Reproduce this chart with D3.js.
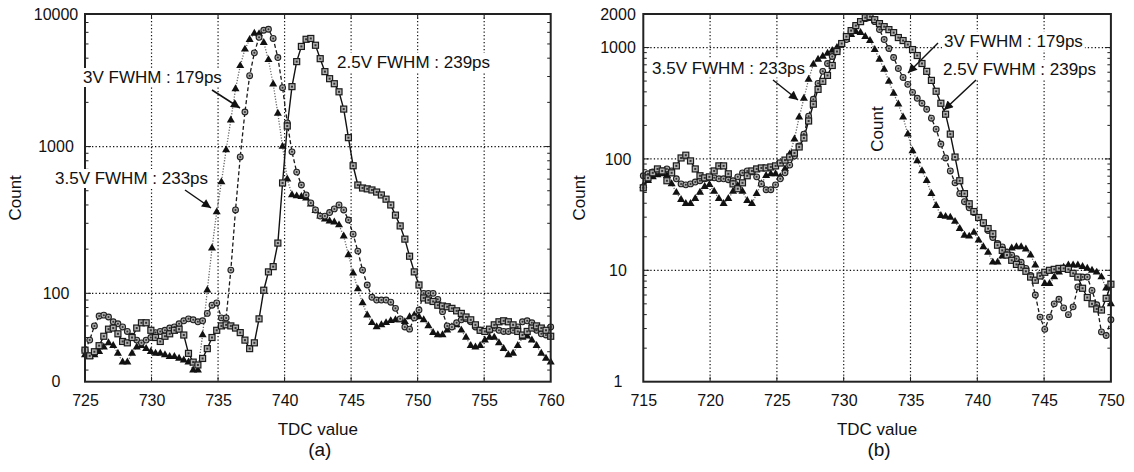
<!DOCTYPE html>
<html lang="en">
<head>
<meta charset="utf-8">
<title>TDC value histograms (a) and (b)</title>
<script src="https://cdn.jsdelivr.net/npm/d3@7"></script>
<style>
  body { margin: 0; background: #fff; }
  svg text { font-family: "Liberation Sans", Arial, Helvetica, sans-serif; fill: #111; }
</style>
</head>
<body>
<script>
// ---- data (100 bins per panel) ----
const tdcA = d3.range(100).map(i => 725 + i * 35 / 99);
const tdcB = d3.range(100).map(i => 715 + i * 35 / 99);

// panel (a)
const countA25 = [41,37.5,40,44,51,57,58,53,47,46, 50,58,63,63,56,50,47,51,53,56,
  57,52,39,34,32.5,36,42,50,56,60, 61,60,58,54,48,42,46,67,105,140,
  152,220,565,1380,2560,3790,4810,5380,5450,4900, 3970,3240,2900,2680,2360,1800,1150,740,547,522,
  515,506,490,468,438,400,341,288,234,179, 140,114,93,90,88,83,82,81,79,76,
  73,69,66,61,56,55,57,61,64,65, 64,61,55,52,55,58,60,58,56,51];
const countA30 = [41,48,60,70,71,69,64,62,59,55, 51,48,46,48,50,54,55,56,58,59,
  62,65,67,66,64,65,73,83,86,68, 68,144,370,850,1720,3040,4350,5550,6200,6300,
  5450,4040,2520,1450,920,670,547,468,413,370, 336,336,355,376,400,370,316,253,194,144,
  114,94,90,90,90,87,79,67,59,57, 68,77,100,100,100,91,75,60,59,63,
  66,67,64,59,56,55,56,58,56,55, 55,56,59,64,65,63,56,53,52,59];
const countA35 = [38,37,38,40,43,46,44,39,34,34, 39,43,44,42,40,39,39,38,37,37,
  36,35,34,30,30,52,105,203,358,573, 950,1515,2470,3550,4600,5350,5900,5850,5100,3900,
  2660,1680,1000,600,468,460,455,445,405,365, 336,320,310,305,292,245,183,137,107,86,
  71,63,59,61,63,65,66,66,64,69, 71,69,66,60,54,52,52,56,59,61,
  56,50,44,43,44,48,50,50,46,42, 38,39,44,50,51,48,44,39,36,34];

// panel (b)
const countB25 = [55,67.6,75,81.3,78,63.7,75,86.6,102,108, 96,81.3,70.6,67.6,69,78,86.6,86.6,73.5,59.7,
  54,61,70.6,78,81.3,83,83,84.7,86.6,91.9, 97.6,104,113,128,154,219,310,421,497,562,
  690,921,1086,1254,1419,1573,1708,1855,1894,1779, 1640,1540,1448,1361,1229,1155,1064,959,848,719,
  611,507,405,316,252,167,104,63.7,48.8,39.6, 33.7,29.8,26.7,23.7,21.3,16.8,15.1,13.7,12.3,11.3,
  10.6,9.8,8.7,8.15,8.9,9.6,10,10.2,10.4,10.4, 10.2,9.4,8.7,6.9,5.7,5.0,4.5,4.4,5.6,7.5];
const countB30 = [70.6,73.5,76.5,78,78,81.3,78,66.3,59.7,58.5, 59.7,62,63.7,66.3,67.6,67.6,66.3,66.3,65,63.7,
  69,75,78,76.5,69,59.7,52.9,52.9,58.5,66.3, 75,88,106,131,167,242,343,477,611,719,
  831,940,1064,1179,1390,1573,1708,1817,1855,1708, 1448,1179,980,814,649,539,467,396,350,316,
  279,232,185,136,102,78,61,48.8,41.3,36.4, 33,29.8,26.2,22.8,19.7,17.4,16.2,14.5,13.7,12.7,
  11.8,10.4,9.0,6.0,3.8,2.95,3.8,5.0,5.5,4.6, 4.0,4.7,7.1,8.7,8.7,6.6,4.9,2.8,2.6,3.6];
const countB35 = [57.5,63.7,69,72,73.5,70.6,59.7,49.9,43,39.6, 39.6,44,50,56.3,58.7,51,44,39.6,44,51,
  57.5,51,42.2,39.6,48.8,59.7,70.6,73.5,73.5,69, 81.3,110.6,150.6,237,350,518,705,781,831,884,
  940,1000,1064,1179,1306,1390,1361,1254,1155,959, 781,636,497,388,310,237,167,118,96,78,
  63.7,48.8,38.1,31,30.4,29.8,27.4,23.7,20.6,20.2, 21.9,18.6,16.2,14.5,11.8,11.8,13.4,14.5,15.8,16.2,
  16.2,15.5,13.7,11.1,8.9,7.6,7.6,8.7,9.6,10.6, 11.1,11.1,11.1,10.8,10.4,10,9.6,8.7,6.9,5.0];

// ticks
const xTicksA = [725, 730, 735, 740, 745, 750, 755, 760];
const xTicksB = [715, 720, 725, 730, 735, 740, 745, 750];
const yTicksA = [25, 100, 1000, 8000];
const yLabelsA = ["0", "100", "1000", "10000"];
const yTicksB = [1, 10, 100, 1000, 2000];
const yLabelsB = ["1", "10", "100", "1000", "2000"];

const seriesNames = ["2.5V", "3V", "3.5V"];
const fwhm = { "2.5V": "239ps", "3V": "179ps", "3.5V": "233ps" };

// ---- layout ----
const w = 1134, h = 472;
const plotTop = 14, plotBottom = 381.7;

const svg = d3.select("body").append("svg")
  .attr("width", w).attr("height", h);

svg.append("defs").append("marker")
  .attr("id", "arrowhead")
  .attr("viewBox", "0 0 10 10")
  .attr("refX", 10).attr("refY", 5)
  .attr("markerWidth", 13).attr("markerHeight", 9)
  .attr("markerUnits", "userSpaceOnUse")
  .attr("orient", "auto")
  .append("path").attr("d", "M0,0 L10,5 L0,10 Z").attr("fill", "#111");

const panels = [
  {
    x0: 85, x1: 550.7, xDomain: [725, 760], xTicks: xTicksA, tdc: tdcA,
    data: [countA25, countA30, countA35],
    yDomain: [25, 8000], yTicks: yTicksA, yLabels: yLabelsA, yGrid: [100, 1000],
    labelX: 56, countX: 21, name: "(a)",
    notes: [
      { s: "3V", x: 83, y: 83, arrow: [212, 90, 240, 108] },
      { s: "3.5V", x: 55, y: 184, arrow: [185, 190, 211, 208] },
      { s: "2.5V", x: 337, y: 68, arrow: null }
    ],
    innerCount: null
  },
  {
    x0: 643.3, x1: 1110.9, xDomain: [715, 750], xTicks: xTicksB, tdc: tdcB,
    data: [countB25, countB30, countB35],
    yDomain: [1, 2000], yTicks: yTicksB, yLabels: yLabelsB, yGrid: [10, 100, 1000],
    labelX: 618, countX: 585, name: "(b)",
    notes: [
      { s: "3.5V", x: 652, y: 73.5, arrow: [773, 80, 798, 100] },
      { s: "3V", x: 944, y: 46.5, arrow: [938, 43, 908, 73] },
      { s: "2.5V", x: 943, y: 75, arrow: [976, 80, 944, 110] }
    ],
    innerCount: [883, 129]
  }
];

function minorTicks(domain) {
  const out = [];
  for (let d = 1; d <= 10000; d *= 10) {
    for (let k = 2; k <= 9; k++) {
      const v = k * d;
      if (v > domain[0] && v < domain[1]) out.push(v);
    }
  }
  return out;
}

function drawPanel(p) {
  const x = d3.scaleLinear().domain(p.xDomain).range([p.x0, p.x1]);
  const y = d3.scaleLog().domain(p.yDomain).range([plotBottom, plotTop]);
  const g = svg.append("g");

  // grid
  const inner = p.xTicks.slice(1, -1);
  g.selectAll(".vgrid").data(inner).join("line")
    .attr("x1", d => x(d)).attr("x2", d => x(d))
    .attr("y1", plotTop).attr("y2", plotBottom)
    .attr("stroke", "#111").attr("stroke-width", 1.2).attr("stroke-dasharray", "1.3,2.2");
  g.selectAll(".hgrid").data(p.yGrid).join("line")
    .attr("x1", p.x0).attr("x2", p.x1)
    .attr("y1", d => y(d)).attr("y2", d => y(d))
    .attr("stroke", "#111").attr("stroke-width", 1.2).attr("stroke-dasharray", "1.3,2.2");

  // ticks on all four sides, pointing in
  const minors = minorTicks(p.yDomain);
  [[p.x0, 1], [p.x1, -1]].forEach(([x0, dir]) => {
    g.selectAll(null).data(minors).join("line")
      .attr("x1", x0).attr("x2", x0 + dir * 3.5)
      .attr("y1", d => y(d)).attr("y2", d => y(d))
      .attr("stroke", "#222").attr("stroke-width", 1);
    g.selectAll(null).data(p.yGrid).join("line")
      .attr("x1", x0).attr("x2", x0 + dir * 6)
      .attr("y1", d => y(d)).attr("y2", d => y(d))
      .attr("stroke", "#222").attr("stroke-width", 1);
  });
  [[plotBottom, -1], [plotTop, 1]].forEach(([y0, dir]) => {
    g.selectAll(null).data(inner).join("line")
      .attr("x1", d => x(d)).attr("x2", d => x(d))
      .attr("y1", y0).attr("y2", y0 + dir * 5)
      .attr("stroke", "#222").attr("stroke-width", 1);
  });

  // series lines
  const line = d3.line().x((d, i) => x(p.tdc[i])).y(d => y(d));
  const lineStyle = [
    { stroke: "#111", dash: null, width: 1.4 },
    { stroke: "#1a1a1a", dash: "4,2.5", width: 1.3 },
    { stroke: "#666", dash: "1.2,1.6", width: 1.3 }
  ];
  [2, 1, 0].forEach(k => {
    g.append("path").datum(p.data[k])
      .attr("d", line)
      .attr("fill", "none")
      .attr("stroke", lineStyle[k].stroke)
      .attr("stroke-width", lineStyle[k].width)
      .attr("stroke-dasharray", lineStyle[k].dash);
  });

  // markers: triangles (3.5V), circles (3V), squares (2.5V)
  const tri = d3.symbol(d3.symbolTriangle, 28);
  g.append("g").selectAll("path").data(p.data[2]).join("path")
    .attr("d", tri)
    .attr("transform", (d, i) => `translate(${x(p.tdc[i])},${y(d)})`)
    .attr("fill", "#111");

  const circ = g.append("g").selectAll("g").data(p.data[1]).join("g")
    .attr("transform", (d, i) => `translate(${x(p.tdc[i])},${y(d)})`);
  circ.append("circle").attr("r", 2.9).attr("fill", "#aaa").attr("stroke", "#222").attr("stroke-width", 1.1);
  circ.append("circle").attr("r", 1).attr("fill", "#333");

  const sq = g.append("g").selectAll("g").data(p.data[0]).join("g")
    .attr("transform", (d, i) => `translate(${x(p.tdc[i])},${y(d)})`);
  sq.append("rect").attr("x", -3).attr("y", -3).attr("width", 6).attr("height", 6)
    .attr("fill", "#b0b0b0").attr("stroke", "#1a1a1a").attr("stroke-width", 1.2);
  sq.append("rect").attr("x", -1).attr("y", -1).attr("width", 2).attr("height", 2)
    .attr("fill", "#333");

  // frame
  g.append("rect")
    .attr("x", p.x0).attr("y", plotTop)
    .attr("width", p.x1 - p.x0).attr("height", plotBottom - plotTop)
    .attr("fill", "none").attr("stroke", "#222").attr("stroke-width", 2);

  // x tick labels
  const xAxis = g.append("g")
    .attr("transform", `translate(0,${plotBottom})`)
    .call(d3.axisBottom(x).tickValues(p.xTicks).tickSize(0).tickPadding(13).tickFormat(d3.format("d")));
  xAxis.select(".domain").remove();
  xAxis.selectAll("text").attr("font-size", 16).attr("fill", "#111")
    .style("font-family", '"Liberation Sans", Arial, sans-serif');

  // y tick labels (centred, like the original)
  g.selectAll(".ylab").data(p.yTicks).join("text")
    .attr("x", p.labelX).attr("y", d => y(d)).attr("dy", "0.36em")
    .attr("text-anchor", "middle").attr("font-size", 16)
    .text((d, i) => p.yLabels[i]);

  // axis titles
  const cx = (p.x0 + p.x1) / 2;
  g.append("text").attr("x", cx).attr("y", 435).attr("text-anchor", "middle")
    .attr("font-size", 17).text("TDC value");
  g.append("text").attr("x", cx + 2).attr("y", 456).attr("text-anchor", "middle")
    .attr("font-size", 19).text(p.name);
  g.append("text").attr("transform", `translate(${p.countX},${(plotTop + plotBottom) / 2}) rotate(-90)`)
    .attr("text-anchor", "middle").attr("font-size", 17).text("Count");
  if (p.innerCount) {
    g.append("text").attr("transform", `translate(${p.innerCount[0]},${p.innerCount[1]}) rotate(-90)`)
      .attr("text-anchor", "middle").attr("font-size", 17).text("Count");
  }

  // annotations with opaque label boxes
  p.notes.forEach(n => {
    const t = g.append("text").attr("x", n.x).attr("y", n.y).attr("font-size", 17)
      .text(`${n.s} FWHM : ${fwhm[n.s]}`);
    const bb = t.node().getBBox();
    g.insert("rect", () => t.node())
      .attr("x", bb.x - 2).attr("y", bb.y).attr("width", bb.width + 4).attr("height", bb.height)
      .attr("fill", "#fff");
    if (n.arrow) {
      g.append("line")
        .attr("x1", n.arrow[0]).attr("y1", n.arrow[1])
        .attr("x2", n.arrow[2]).attr("y2", n.arrow[3])
        .attr("stroke", "#111").attr("stroke-width", 1.5)
        .attr("marker-end", "url(#arrowhead)");
    }
  });
}

panels.forEach(drawPanel);
</script>
</body>
</html>
